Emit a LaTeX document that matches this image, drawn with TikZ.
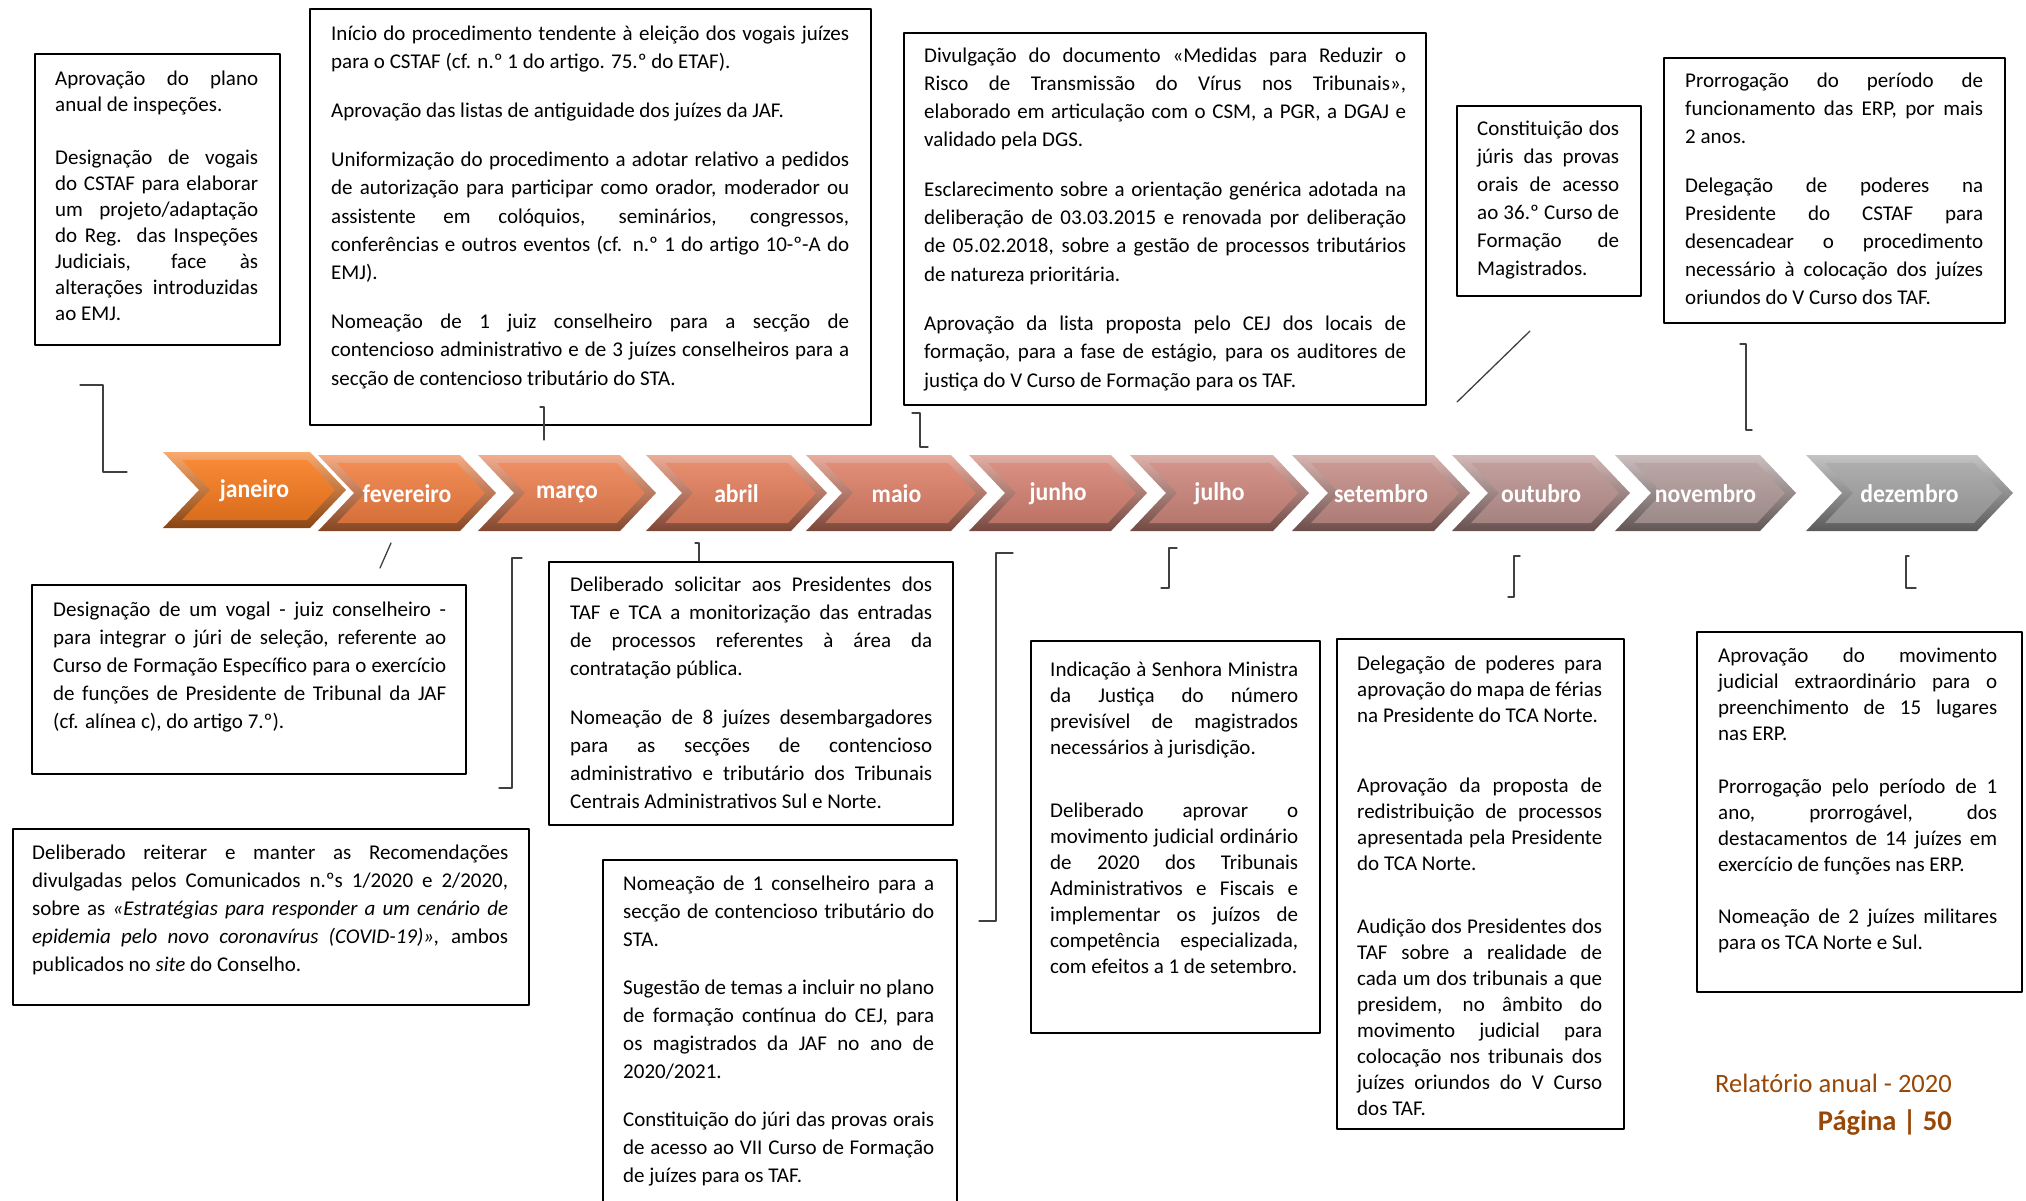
\documentclass[tikz,border=0pt]{standalone}
\usepackage{fontspec}
\setmainfont{Carlito}
\definecolor{rodape}{RGB}{152,72,6}
\tikzset{
  caixa/.style={draw, line width=2.2pt, anchor=north west, inner sep=0pt},
  texto/.style={anchor=base west, inner sep=0pt, align=justify, font=\fontsize{21}{28}\selectfont},
  traco/.style={line width=1.3pt, black!75, line cap=round},
  mes/.style={text=white, inner sep=0pt, font=\fontsize{25.5}{25.5}\selectfont\bfseries}
}
\begin{document}
\begin{tikzpicture}[x=1pt, y=-1pt, line join=round]
\useasboundingbox (0,0) rectangle (2026,1200);
% barra dos meses
\foreach \mes/\xa/\xb/\ya/\r/\g/\b [count=\i] in {janeiro/163/346/452/247/124/32, fevereiro/318/496/455/241/127/66, março/478/656/455/236/129/83, abril/646/827/455/228/128/95, maio/806/987/455/221/129/105, junho/969/1147/455/213/131/116, julho/1130/1309/455/205/135/125, setembro/1292/1470/455/196/141/135, outubro/1452/1630/455/187/148/145, novembro/1615/1796/455/177/156/155, dezembro/1806/2013/455/164/164/164}{
  \definecolor{cormes}{RGB}{\r,\g,\b}
  \shade[top color=cormes!65!white, bottom color=cormes!55!black] (\xa,\ya) -- ({\xb-36},\ya) -- (\xb,\ya+38) -- ({\xb-36},\ya+76) -- (\xa,\ya+76) -- ({\xa+36},\ya+38) -- cycle;
  \shade[top color=cormes!90!white, bottom color=cormes!88!black] ({\xa+19},\ya+8) -- ({\xb-39},\ya+8) -- ({\xb-11},\ya+38) -- ({\xb-39},\ya+68) -- ({\xa+19},\ya+68) -- ({\xa+47},\ya+38) -- cycle;
  \node[mes] (mes\i) at ({(\xa+\xb)/2},\ya+39) {\scalebox{0.93}[1]{\mes}};
}
% caixas de cima
\node[caixa, minimum width=245, minimum height=291] (jan) at (34,53) {};
\node[texto, text width=203, font=\fontsize{21}{26}\selectfont] (janT) at ([shift={(21,32)}]jan.north west) {Aprovação do plano\linebreak
anual de inspeções.\\[27pt]
Designação de vogais\linebreak
do CSTAF para elaborar\linebreak
um projeto/adaptação\linebreak
do Reg. das Inspeções\linebreak
Judiciais, face às\linebreak
alterações introduzidas\linebreak
ao EMJ.};
\node[caixa, minimum width=561, minimum height=416] (fev) at (309,8) {};
\node[texto, text width=518, font=\fontsize{21}{28.2}\selectfont] (fevT) at ([shift={(22,32)}]fev.north west) {Início do procedimento tendente à eleição dos vogais juízes\linebreak
para o CSTAF (cf. n.º 1 do artigo. 75.º do ETAF).\\[21pt]
Aprovação das listas de antiguidade dos juízes da JAF.\\[21pt]
Uniformização do procedimento a adotar relativo a pedidos\linebreak
de autorização para participar como orador, moderador ou\linebreak
assistente em colóquios, seminários, congressos,\linebreak
conferências e outros eventos (cf. n.º 1 do artigo 10-º-A do\linebreak
EMJ).\\[21pt]
Nomeação de 1 juiz conselheiro para a secção de\linebreak
contencioso administrativo e de 3 juízes conselheiros para a\linebreak
secção de contencioso tributário do STA.};
\node[caixa, minimum width=522, minimum height=372] (mai) at (903,32) {};
\node[texto, text width=482, font=\fontsize{21}{28.3}\selectfont] (maiT) at ([shift={(21,30)}]mai.north west) {Divulgação do documento «Medidas para Reduzir o\linebreak
Risco de Transmissão do Vírus nos Tribunais»,\linebreak
elaborado em articulação com o CSM, a PGR, a DGAJ e\linebreak
validado pela DGS.\\[21pt]
Esclarecimento sobre a orientação genérica adotada na\linebreak
deliberação de 03.03.2015 e renovada por deliberação\linebreak
de 05.02.2018, sobre a gestão de processos tributários\linebreak
de natureza prioritária.\\[21pt]
Aprovação da lista proposta pelo CEJ dos locais de\linebreak
formação, para a fase de estágio, para os auditores de\linebreak
justiça do V Curso de Formação para os TAF.};
\node[caixa, minimum width=184, minimum height=190] (out) at (1456,105) {};
\node[texto, text width=142] (outT) at ([shift={(21,30)}]out.north west) {Constituição dos\linebreak
júris das provas\linebreak
orais de acesso\linebreak
ao 36.º Curso de\linebreak
Formação de\linebreak
Magistrados.};
\node[caixa, minimum width=341, minimum height=265] (nov) at (1663,57) {};
\node[texto, text width=298] (novT) at ([shift={(22,30)}]nov.north west) {Prorrogação do período de\linebreak
funcionamento das ERP, por mais\linebreak
2 anos.\\[21pt]
Delegação de poderes na\linebreak
Presidente do CSTAF para\linebreak
desencadear o procedimento\linebreak
necessário à colocação dos juízes\linebreak
oriundos do V Curso dos TAF.};
% caixas de baixo
\node[caixa, minimum width=434, minimum height=189] (fevB) at (31,584) {};
\node[texto, text width=393] (fevBT) at ([shift={(22,32)}]fevB.north west) {Designação de um vogal - juiz conselheiro -\linebreak
para integrar o júri de seleção, referente ao\linebreak
Curso de Formação Específico para o exercício\linebreak
de funções de Presidente de Tribunal da JAF\linebreak
(cf. alínea c), do artigo 7.º).};
\node[caixa, minimum width=516, minimum height=176] (marB) at (12,828) {};
\node[texto, text width=476] (marBT) at ([shift={(20,31)}]marB.north west) {Deliberado reiterar e manter as Recomendações\linebreak
divulgadas pelos Comunicados n.ºs 1/2020 e 2/2020,\linebreak
sobre as \textit{«Estratégias para responder a um cenário de}\linebreak
\textit{epidemia pelo novo coronavírus (COVID-19)»,} ambos\linebreak
publicados no \textit{site} do Conselho.};
\node[caixa, minimum width=404, minimum height=263] (abr) at (548,561) {};
\node[texto, text width=362] (abrT) at ([shift={(22,30)}]abr.north west) {Deliberado solicitar aos Presidentes dos\linebreak
TAF e TCA a monitorização das entradas\linebreak
de processos referentes à área da\linebreak
contratação pública.\\[21pt]
Nomeação de 8 juízes desembargadores\linebreak
para as secções de contencioso\linebreak
administrativo e tributário dos Tribunais\linebreak
Centrais Administrativos Sul e Norte.};
\node[caixa, minimum width=354, minimum height=370] (jun) at (602,859) {};
\node[texto, text width=311] (junT) at ([shift={(21,31)}]jun.north west) {Nomeação de 1 conselheiro para a\linebreak
secção de contencioso tributário do\linebreak
STA.\\[20pt]
Sugestão de temas a incluir no plano\linebreak
de formação contínua do CEJ, para\linebreak
os magistrados da JAF no ano de\linebreak
2020/2021.\\[20pt]
Constituição do júri das provas orais\linebreak
de acesso ao VII Curso de Formação\linebreak
de juízes para os TAF.};
\node[caixa, minimum width=289, minimum height=392] (jul) at (1030,640) {};
\node[texto, text width=248, font=\fontsize{21}{26}\selectfont] (julT) at ([shift={(20,36)}]jul.north west) {Indicação à Senhora Ministra\linebreak
da Justiça do número\linebreak
previsível de magistrados\linebreak
necessários à jurisdição.\\[37pt]
Deliberado aprovar o\linebreak
movimento judicial ordinário\linebreak
de 2020 dos Tribunais\linebreak
Administrativos e Fiscais e\linebreak
implementar os juízos de\linebreak
competência especializada,\linebreak
com efeitos a 1 de setembro.};
\node[caixa, minimum width=287, minimum height=490] (set) at (1336,638) {};
\node[texto, text width=245, font=\fontsize{21}{26}\selectfont] (setT) at ([shift={(21,32)}]set.north west) {Delegação de poderes para\linebreak
aprovação do mapa de férias\linebreak
na Presidente do TCA Norte.\\[44pt]
Aprovação da proposta de\linebreak
redistribuição de processos\linebreak
apresentada pela Presidente\linebreak
do TCA Norte.\\[37pt]
Audição dos Presidentes dos\linebreak
TAF sobre a realidade de\linebreak
cada um dos tribunais a que\linebreak
presidem, no âmbito do\linebreak
movimento judicial para\linebreak
colocação nos tribunais dos\linebreak
juízes oriundos do V Curso\linebreak
dos TAF.};
\node[caixa, minimum width=325, minimum height=360] (dez) at (1696,631) {};
\node[texto, text width=279, font=\fontsize{21}{26}\selectfont] (dezT) at ([shift={(22,31)}]dez.north west) {Aprovação do movimento\linebreak
judicial extraordinário para o\linebreak
preenchimento de 15 lugares\linebreak
nas ERP.\\[27pt]
Prorrogação pelo período de 1\linebreak
ano, prorrogável, dos\linebreak
destacamentos de 14 juízes em\linebreak
exercício de funções nas ERP.\\[26pt]
Nomeação de 2 juízes militares\linebreak
para os TCA Norte e Sul.};
% tracos soltos
\draw[traco] (80,385) -- (103,385) -- (103,472) -- (127,472);
\draw[traco] (540,407) -- (544,407) -- (544,440);
\draw[traco] (912,413) -- (920,413) -- (920,447) -- (928,447);
\draw[traco] (1530,331) -- (1457,402);
\draw[traco] (1740,344) -- (1746,344) -- (1746,430) -- (1752,430);
\draw[traco] (391,543) -- (380,568);
\draw[traco] (522,558) -- (512,558) -- (512,788) -- (499,788);
\draw[traco] (695,543) -- (699,543) -- (699,561);
\draw[traco] (1013,553) -- (996,553) -- (996,921) -- (979,921);
\draw[traco] (1177,548) -- (1169,548) -- (1169,588) -- (1161,588);
\draw[traco] (1520,556) -- (1514,556) -- (1514,597) -- (1508,597);
\draw[traco] (1909,556) -- (1906,556) -- (1906,588) -- (1916,588);
% rodape
\node[anchor=base east, text=rodape, inner sep=0pt, font=\fontsize{26.5}{30}\selectfont] (relatorio) at (1952,1092) {Relatório anual - 2020};
\node[anchor=base east, text=rodape, inner sep=0pt, font=\fontsize{28.5}{30}\selectfont\bfseries] (pagina) at (1952,1130) {Página | 50};
\end{tikzpicture}
\end{document}
